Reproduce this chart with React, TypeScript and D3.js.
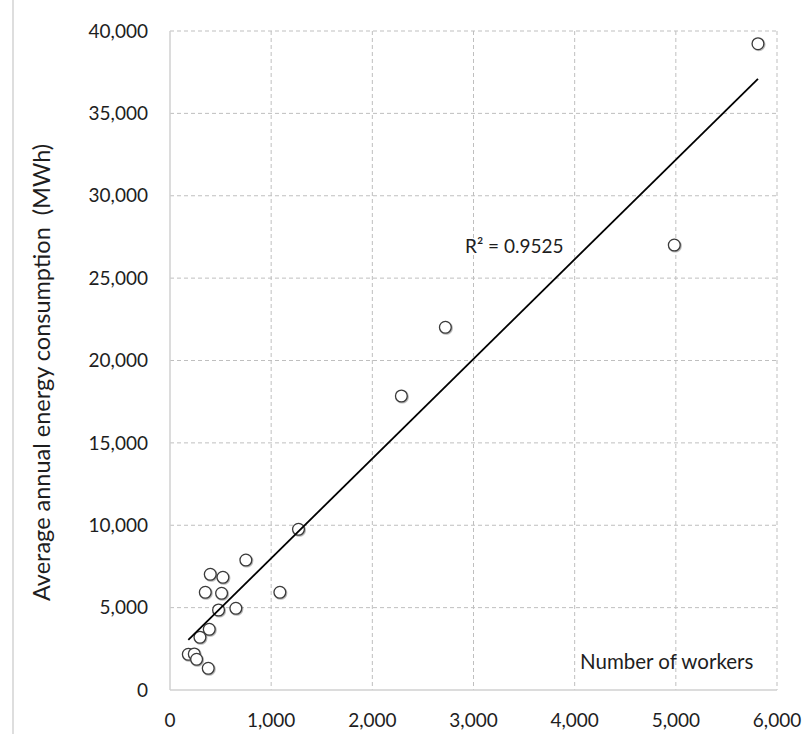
import React from "react";
import * as d3 from "d3";

// Workers per site vs. average annual energy use (MWh)
const workers = [181, 240, 263, 378, 296, 388, 480, 651, 349, 510, 398, 523, 750, 1086, 1270, 2287, 2722, 4985, 5812];
const energyMWh = [2167, 2185, 1863, 1317, 3199, 3684, 4856, 4958, 5930, 5870, 7023, 6840, 7890, 5930, 9754, 17845, 22015, 27010, 39230];

const xTicks = [0, 1000, 2000, 3000, 4000, 5000, 6000];
const yTicks = [0, 5000, 10000, 15000, 20000, 25000, 30000, 35000, 40000];

const rSquaredLabel = "R² = 0.9525";
const xTitle = "Number of workers";
const yTitle = "Average annual energy consumption  (MWh)";

const W = 804;
const H = 734;
const margin = { left: 170, right: 27, top: 31, bottom: 44 };
const FONT = "Lato, 'Open Sans', sans-serif";

export default function App() {
  const x = d3.scaleLinear().domain([0, 6000]).range([margin.left, W - margin.right]);
  const y = d3.scaleLinear().domain([0, 40000]).range([H - margin.bottom, margin.top]);
  const fmt = d3.format(",");

  // ordinary least-squares fit over the points
  const mx = d3.mean(workers)!;
  const my = d3.mean(energyMWh)!;
  let sxy = 0;
  let sxx = 0;
  workers.forEach((w, i) => {
    sxy += (w - mx) * (energyMWh[i] - my);
    sxx += (w - mx) * (w - mx);
  });
  const slope = sxy / sxx;
  const intercept = my - slope * mx;
  const [x0, x1] = d3.extent(workers) as [number, number];
  const fitLine = d3.line<number>().x((v) => x(v)).y((v) => y(intercept + slope * v));

  const grid = "#bfbfbf";
  const axisCol = "#d0d0d0";
  const ink = "#1e1e1e";

  return (
    <div style={{ position: "absolute", left: 0, top: 0 }}>
      <svg width={W} height={H} style={{ display: "block", background: "#fff" }}>
        <defs>
          <filter id="mshadow" x="-50%" y="-50%" width="200%" height="200%">
            <feDropShadow dx="0.8" dy="0.8" stdDeviation="0.7" floodColor="#000" floodOpacity="0.35" />
          </filter>
        </defs>
        <line x1={13} x2={13} y1={0} y2={H} stroke="#c8c8c8" strokeWidth={1.2} />

        {/* dashed gridlines */}
        {xTicks.slice(1).map((t) => (
          <line key={"gx" + t} x1={x(t)} x2={x(t)} y1={y(40000)} y2={y(0)} stroke={grid} strokeWidth={1} strokeDasharray="4 3" />
        ))}
        {yTicks.slice(1).map((t) => (
          <line key={"gy" + t} x1={x(0)} x2={x(6000)} y1={y(t)} y2={y(t)} stroke={grid} strokeWidth={1} strokeDasharray="4 3" />
        ))}

        {/* axes */}
        <line x1={x(0)} x2={x(0)} y1={y(40000)} y2={y(0)} stroke={axisCol} strokeWidth={1.5} />
        <line x1={x(0)} x2={x(6000)} y1={y(0)} y2={y(0)} stroke={axisCol} strokeWidth={1.5} />

        {xTicks.map((t) => (
          <text key={"tx" + t} x={x(t)} y={727} textAnchor="middle" fontFamily={FONT} fontSize={19} fill={ink}>
            {fmt(t)}
          </text>
        ))}
        {yTicks.map((t) => (
          <text key={"ty" + t} x={148} y={y(t)} dy="0.35em" textAnchor="end" fontFamily={FONT} fontSize={19} fill={ink}>
            {fmt(t)}
          </text>
        ))}

        <text
          transform={`translate(50, ${(135 + 610) / 2}) rotate(-90)`}
          textAnchor="middle"
          fontFamily={FONT}
          fontSize={23.5}
          fill={ink}
          style={{ whiteSpace: "pre" }}
        >
          {yTitle}
        </text>
        <text x={580} y={669} fontFamily={FONT} fontSize={20.5} fill={ink}>
          {xTitle}
        </text>

        {/* data markers */}
        <g filter="url(#mshadow)">
          {workers.map((w, i) => (
            <circle key={i} cx={x(w)} cy={y(energyMWh[i])} r={5.9} fill="#fff" stroke="#3a3a3a" strokeWidth={1.3} />
          ))}
        </g>

        <path d={fitLine([x0, x1]) ?? ""} fill="none" stroke="#000" strokeWidth={1.8} />

        <text x={465} y={253} fontFamily={FONT} fontSize={19} fill={ink}>
          {rSquaredLabel}
        </text>
      </svg>
    </div>
  );
}
